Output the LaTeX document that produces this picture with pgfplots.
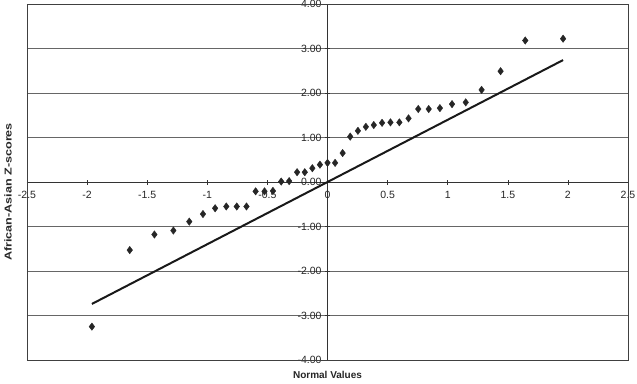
\documentclass[border=0pt]{standalone}
\usepackage{fontspec}
\setmainfont{Liberation Sans}
\usepackage{pgfplots}
\pgfplotsset{compat=1.18}
\usepackage{graphicx}
\begin{document}
\begin{tikzpicture}
\useasboundingbox (-27pt,-23pt) rectangle (610pt,360pt);
\begin{axis}[
  at={(0pt,0pt)}, anchor=south west,
  scale only axis, width=601pt, height=356pt,
  xmin=-2.5, xmax=2.5, ymin=-4, ymax=4,
  axis lines=middle,
  axis line style={black!80, line width=0.7pt, -},
  xtick={-2.5,-2,-1.5,-1,-0.5,0,0.5,1,1.5,2,2.5},
  ytick={-4,-3,-2,-1,0,1,2,3,4},
  hide obscured x ticks=false, hide obscured y ticks=false,
  xticklabel style={/pgf/number format/fixed, /pgf/number format/assume math mode=true, font=\fontsize{10.5}{11}\selectfont, black!85, yshift=-3pt},
  yticklabel style={/pgf/number format/fixed, /pgf/number format/fixed zerofill, /pgf/number format/precision=2, /pgf/number format/assume math mode=true, font=\fontsize{10.5}{11}\selectfont, black!85},
  tick align=center, major tick length=5pt,
  tick style={black!80, line width=0.6pt},
  ymajorgrids, grid style={black!60, line width=0.7pt},
  every axis x label/.style={at={(rel axis cs:0.5,0)}, anchor=center, yshift=-15pt, font=\fontsize{10}{11}\selectfont\bfseries, black!85},
  every axis y label/.style={at={(rel axis cs:0,0.5)}, anchor=center, rotate=90, yshift=19pt, xshift=-10pt, font=\fontsize{10}{11}\selectfont\bfseries, black!85},
  xlabel={Normal Values},
  ylabel={\scalebox{1.26}[1]{African-Asian Z-scores}},
  clip=false,
  after end axis/.code={\draw[black!75, line width=0.7pt] (rel axis cs:0,0) rectangle (rel axis cs:1,1);},
]
\addplot[only marks, mark=diamond*, mark size=3.7pt, color=black!85] coordinates {
(-1.960,-3.25) (-1.645,-1.53) (-1.440,-1.18) (-1.282,-1.09) (-1.150,-0.89)
(-1.036,-0.72) (-0.935,-0.59) (-0.842,-0.55) (-0.755,-0.55) (-0.674,-0.55)
(-0.598,-0.21) (-0.524,-0.21) (-0.454,-0.20) (-0.385,0.01) (-0.319,0.02)
(-0.253,0.22) (-0.189,0.22) (-0.126,0.31) (-0.063,0.39) (0,0.43)
(0.063,0.43) (0.126,0.65) (0.189,1.02) (0.253,1.15) (0.319,1.24)
(0.385,1.28) (0.454,1.33) (0.524,1.34) (0.598,1.34) (0.674,1.43)
(0.755,1.64) (0.842,1.64) (0.935,1.66) (1.036,1.75) (1.150,1.79)
(1.282,2.07) (1.440,2.49) (1.645,3.18) (1.960,3.22)
};
\addplot[black!90, line width=2pt, mark=none] coordinates {(-1.96,-2.74) (1.96,2.74)};
\end{axis}
\end{tikzpicture}
\end{document}
